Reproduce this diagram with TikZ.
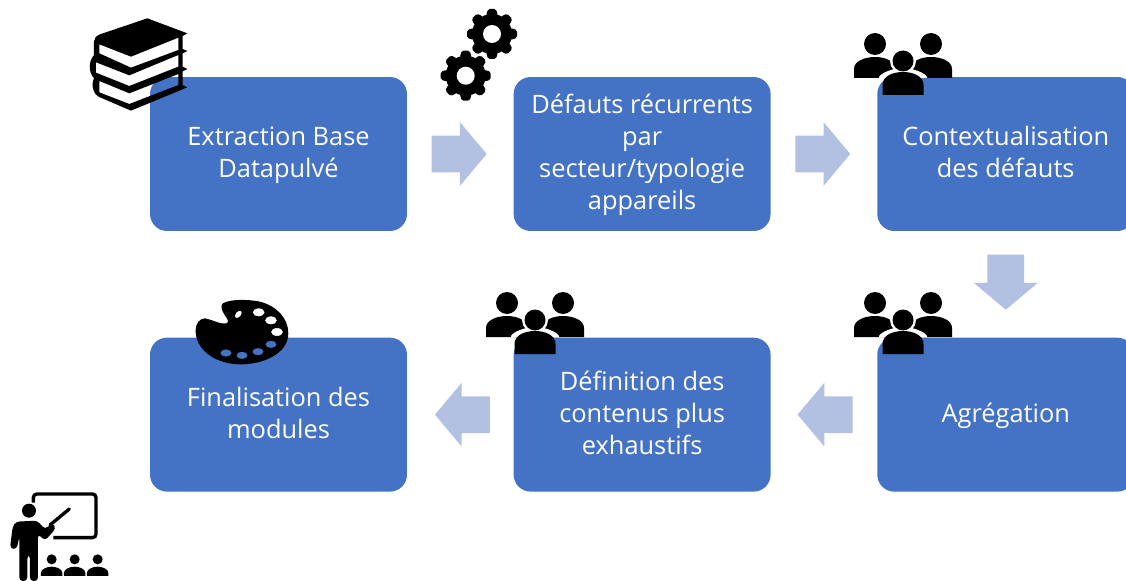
\documentclass[tikz,border=0pt]{standalone}
\usepackage{fontspec}
\setmainfont{Open Sans}
\usetikzlibrary{positioning,calc,shapes.arrows}
\definecolor{boxblue}{HTML}{4472C4}
\definecolor{arrowblue}{HTML}{B2C1E2}
\newcommand{\boxlines}[1]{\begin{tabular}{@{}c@{}}\rule{0pt}{14.4pt}#1\end{tabular}}
\tikzset{
  peoplepic/.pic={
    \fill[black] (-28,-17) circle (11);
    \fill[black] (28,-17) circle (11);
    \fill[black] (-49,17) -- (-49,8) .. controls (-49,0) and (-38,-4) .. (-28,-4) .. controls (-18,-4) and (-8,0) .. (-8,8) -- (-8,17) -- cycle;
    \fill[black] (49,17) -- (49,8) .. controls (49,0) and (38,-4) .. (28,-4) .. controls (18,-4) and (8,0) .. (8,8) -- (8,17) -- cycle;
    \fill[white] (-24,17) -- (-24,16) .. controls (-22,12) and (-10,7) .. (0,7) .. controls (10,7) and (22,12) .. (24,16) -- (24,17) -- cycle;
    \fill[white] (0,0) circle (13);
    \fill[black] (0,0) circle (10.5);
    \fill[black] (-20.5,34) -- (-20.5,24) .. controls (-20.5,15) and (-10,11) .. (0,11) .. controls (10,11) and (20.5,15) .. (20.5,24) -- (20.5,34) -- cycle;
  },
  gearpic/.pic={
    \fill[black] (0,0) circle (20);
    \foreach \ang in {0,45,...,315}
      \fill[black,rotate=\ang,rounded corners=1pt] (-6,-18) -- (-4,-25) -- (4,-25) -- (6,-18) -- cycle;
    \fill[white] (0,0) circle (9);
  }
}
\begin{document}
\begin{tikzpicture}[x=0.02cm,y=-0.02cm,node distance=2.12cm,
    every node/.style={font=\fontsize{14.45}{18.2}\selectfont},
    stepbox/.style={fill=boxblue,text=white,rounded corners=0.34cm,minimum width=5.14cm,minimum height=3.08cm,inner sep=0pt},
    flow/.style={single arrow,fill=arrowblue,minimum height=1.1cm,single arrow head extend=0.27cm,single arrow tip angle=100,inner xsep=0pt,inner ysep=0.36cm}]
    \useasboundingbox (0,0) rectangle (1126,581);
    \clip (0,0) rectangle (1126,581);
    \node[stepbox] (a) at (278.5,154) {\boxlines{Extraction Base\\Datapulvé}};
    \node[stepbox] (b) [right=of a] {\boxlines{Défauts récurrents\\par\\secteur/typologie\\appareils}};
    \node[stepbox] (c) [right=of b] {\boxlines{Contextualisation\\des défauts}};
    \node[stepbox] (d) [below=of c] {\boxlines{Agrégation}};
    \node[stepbox] (e) [left=of d] {\boxlines{Définition des\\contenus plus\\exhaustifs}};
    \node[stepbox] (f) [left=of e] {\boxlines{Finalisation des\\modules}};
    \node[flow,right=0.48cm of a,anchor=tail] (ab) {};
    \node[flow,right=0.48cm of b,anchor=tail] (bc) {};
    \node[flow,below=0.46cm of c,anchor=tail,rotate=-90] (cd) {};
    \node[flow,left=0.48cm of d,anchor=tail,rotate=180] (de) {};
    \node[flow,left=0.46cm of e,anchor=tail,rotate=180] (ef) {};
    \begin{scope}[shift={(70,0)},x=0.00667cm,y=-0.00667cm]
      \fill[black,even odd rule] (232,55) -- (352,100) -- (338,108) -- (338,147) -- (352,153) -- (338,160) -- (338,200) -- (352,207) -- (338,214) -- (338,255) -- (352,262) -- (183,332) -- (90,292) .. controls (70,285) and (62,255) .. (72,235) .. controls (55,215) and (55,185) .. (72,165) -- (72,125) .. controls (72,115) and (78,108) .. (90,103) -- cycle
        (88,133) -- (183,170) -- (325,113) -- (325,150) -- (183,203) -- (88,160) -- cycle
        (78,187) -- (178,226) -- (325,165) -- (325,200) -- (178,258) -- (78,218) -- cycle
        (88,243) -- (178,280) -- (325,222) -- (325,255) -- (178,312) -- (88,277) -- cycle;
    \end{scope}
    \pic at (492,34) {gearpic};
    \pic at (465.7,75.7) {gearpic};
    \pic at (903,61) {peoplepic};
    \pic at (903,320) {peoplepic};
    \pic at (535,320) {peoplepic};
    \begin{scope}[shift={(180,290)},x=0.00667cm,y=-0.00667cm]
      \fill[black,even odd rule] (125,45) .. controls (130,30) and (190,25) .. (240,35) .. controls (290,48) and (325,85) .. (325,130) .. controls (325,190) and (250,225) .. (175,223) .. controls (100,220) and (45,175) .. (47,120) .. controls (47,100) and (60,85) .. (75,85) .. controls (100,90) and (125,105) .. (140,100) .. controls (155,90) and (120,70) .. (125,45) -- cycle
        (175,73) ellipse [x radius=8,y radius=13,rotate=-40]
        (236,67) ellipse [x radius=18,y radius=12]
        (273,91) ellipse [x radius=18,y radius=12]
        (291,126) ellipse [x radius=18,y radius=12]
        (273,163) ellipse [x radius=17,y radius=11]
        (234,185) ellipse [x radius=17,y radius=11]
        (186,196) ellipse [x radius=17,y radius=11]
        (138,189) ellipse [x radius=17,y radius=11];
    \end{scope}
    \begin{scope}[shift={(0,480)},x=0.00667cm,y=-0.00667cm]
      \draw[black,line width=1.9pt,rounded corners=2pt] (100,68) -- (100,42) -- (288,42) -- (288,173) -- (160,173);
      \fill[black] (87,92) circle (21);
      \fill[black,rounded corners=2pt] (48,125) -- (112,122) -- (135,148) -- (158,128) -- (168,145) -- (135,182) -- (114,162) -- (114,303) -- (90,303) -- (90,225) -- (82,225) -- (82,303) -- (58,303) -- (58,170) -- (50,208) -- (30,205) -- (38,140) -- cycle;
      \draw[black,line width=1.9pt,line cap=round] (150,135) -- (208,87);
      \foreach \xa in {155,224,293} {
        \fill[black] (\xa,238) circle (15);
        \fill[black] (\xa-32,288) -- (\xa-32,278) .. controls (\xa-32,268) and (\xa-15,260) .. (\xa,260) .. controls (\xa+15,260) and (\xa+32,268) .. (\xa+32,278) -- (\xa+32,288) -- cycle;
      }
    \end{scope}
  \end{tikzpicture}
\end{document}
